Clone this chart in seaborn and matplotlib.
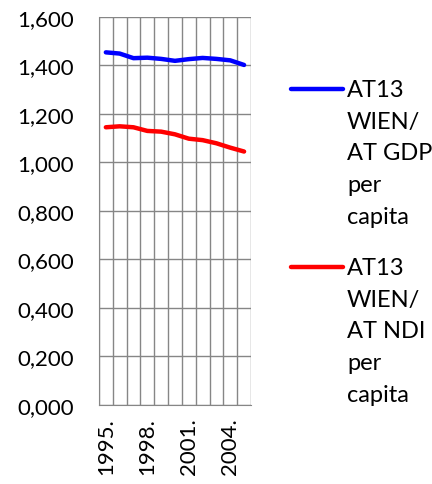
import pandas as pd
import matplotlib
matplotlib.use('Agg')
import matplotlib.pyplot as plt
import seaborn as sns
from matplotlib.lines import Line2D
from matplotlib.ticker import FuncFormatter, FixedLocator

years = list(range(1995, 2006))
gdp_ratio = [1.454, 1.449, 1.430, 1.432, 1.427, 1.419, 1.426, 1.431, 1.427, 1.421, 1.402]
ndi_ratio = [1.145, 1.149, 1.145, 1.130, 1.127, 1.116, 1.098, 1.092, 1.079, 1.061, 1.045]
series_names = ['AT13\nWIEN/\nAT GDP\nper\ncapita', 'AT13\nWIEN/\nAT NDI\nper\ncapita']
series_colors = ['#0000ff', '#ff0000']

df = pd.DataFrame({
    'pos': list(range(len(years))) * 2,
    'value': gdp_ratio + ndi_ratio,
    'series': [series_names[0]] * len(years) + [series_names[1]] * len(years),
})

sns.set_style('white')
plt.rcParams['font.family'] = ['Lato', 'DejaVu Sans']
plt.rcParams['text.color'] = 'black'
plt.rcParams['xtick.color'] = 'black'
plt.rcParams['ytick.color'] = 'black'

fig = plt.figure(figsize=(4.32, 4.85), dpi=100)
ax = fig.add_axes([0.229, 0.163, 0.352, 0.8])

sns.lineplot(data=df, x='pos', y='value', hue='series', palette=series_colors,
             linewidth=3.2, ax=ax, legend=False, solid_capstyle='round')

grid_c = '#868686'
ax.set_xlim(-0.5, len(years) - 0.5)
ax.set_ylim(0, 1.6)
ax.set_yticks([i * 0.2 for i in range(9)])
ax.yaxis.set_major_formatter(FuncFormatter(lambda v, p: f'{v:.3f}'.replace('.', ',')))
ax.set_xticks(range(0, len(years), 3))
ax.set_xticklabels([f'{y}.' for y in years[::3]], rotation=90)
ax.xaxis.set_minor_locator(FixedLocator([i - 0.5 for i in range(len(years) + 1)]))
ax.grid(True, axis='y', color=grid_c, linewidth=1)
ax.grid(True, axis='x', which='minor', color=grid_c, linewidth=1)
ax.set_axisbelow(True)
ax.tick_params(axis='x', which='major', length=0, pad=9, labelsize=16)
ax.tick_params(axis='x', which='minor', length=5, color=grid_c, width=1)
ax.tick_params(axis='y', length=5, color=grid_c, width=1, pad=13, labelsize=16)
for s in ['top', 'right']:
    ax.spines[s].set_visible(False)
for s in ['left', 'bottom']:
    ax.spines[s].set_color(grid_c)
ax.set_xlabel('')
ax.set_ylabel('')

# legend on the right, handle next to first text line
for name, col, yline in zip(series_names, series_colors, [90, 268]):
    yf = 1 - yline / 485
    fig.add_artist(Line2D([291 / 432, 343 / 432], [yf, yf], color=col, linewidth=3.2,
                          solid_capstyle='round'))
    fig.text(347 / 432, 1 - (yline - 10) / 485, name, fontsize=17, va='top', ha='left',
             linespacing=1.63)

fig.savefig('out.png', dpi=100)
